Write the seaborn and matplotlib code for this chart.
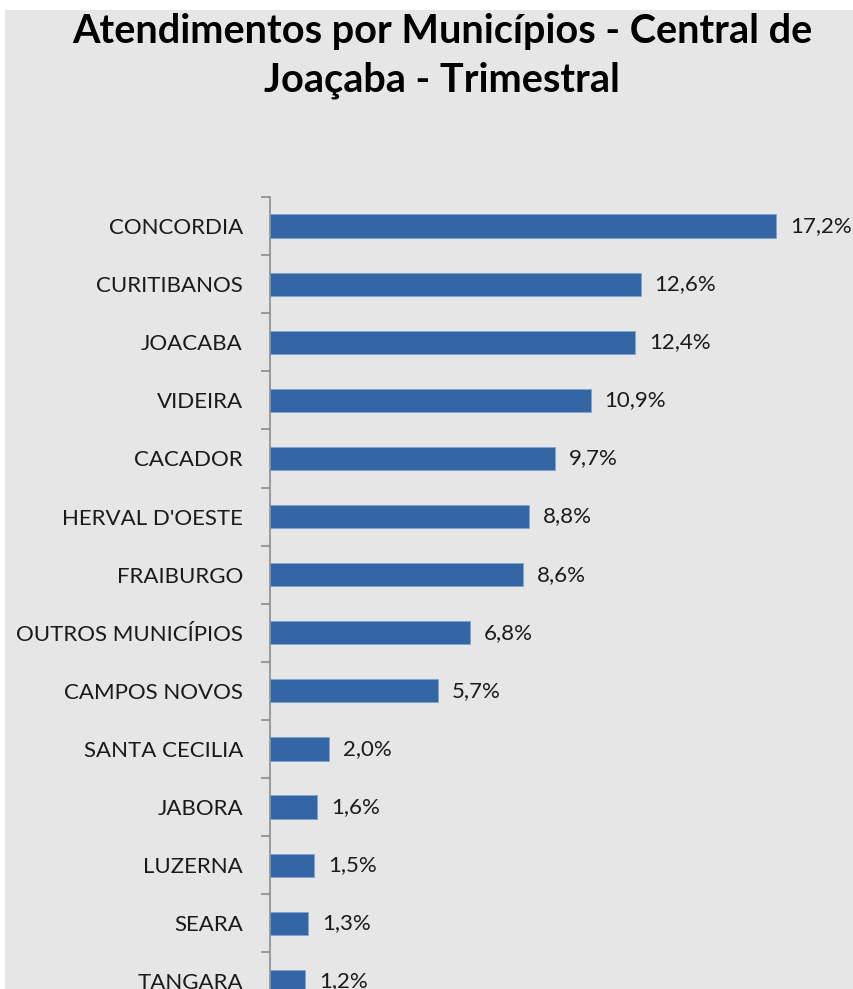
import pandas as pd
import matplotlib.pyplot as plt
import seaborn as sns
from matplotlib.patches import Rectangle
from matplotlib.ticker import FixedLocator

# data
municipios = ['CONCORDIA', 'CURITIBANOS', 'JOACABA', 'VIDEIRA', 'CACADOR',
              "HERVAL D'OESTE", 'FRAIBURGO', 'OUTROS MUNICÍPIOS', 'CAMPOS NOVOS',
              'SANTA CECILIA', 'JABORA', 'LUZERNA', 'SEARA', 'TANGARA']
percentuais = [17.2, 12.6, 12.4, 10.9, 9.7, 8.8, 8.6, 6.8, 5.7, 2.0, 1.6, 1.5, 1.3, 1.2]

df = pd.DataFrame({'municipio': municipios, 'pct': percentuais})

bg = '#e6e6e6'
bar_color = '#3466a5'

sns.set_style('white')
plt.rcParams['font.family'] = ['Lato', 'DejaVu Sans']

W, H = 854, 989
fig = plt.figure(figsize=(W / 100, H / 100), dpi=100)
fig.patch.set_facecolor('white')
# gray chart area (small white margin top/left in the original)
fig.patches.append(Rectangle((5 / W, 0), 1 - 5 / W, 1 - 10 / H, transform=fig.transFigure,
                             facecolor=bg, edgecolor='none', zorder=-1))

# axes: top of first band at y=197px, 58.1px per category, runs off the bottom
band = 58.1
top = 197
n = len(municipios)
ax_left = 270 / W
ax_top = 1 - top / H
ax_h = n * band / H
ax = fig.add_axes([ax_left, ax_top - ax_h, 1 - ax_left, ax_h])
ax.set_facecolor('none')

sns.barplot(data=df, x='pct', y='municipio', orient='h', color=bar_color,
            width=0.4, edgecolor='#7fa3cf', linewidth=0.6, saturation=1, ax=ax)

px_per_unit = 506 / 17.2
ax.set_xlim(0, (W - 270) / px_per_unit)
ax.set_ylim(n - 0.5, -0.5)

for i, v in enumerate(percentuais):
    ax.text(v + 14 / px_per_unit, i, f'{v:.1f}%'.replace('.', ','),
            va='center', ha='left', fontsize=16, color='#1a1a1a')

# axis formatting
ax.set_xlabel('')
ax.set_ylabel('')
ax.set_xticks([])
for s in ['top', 'right', 'bottom']:
    ax.spines[s].set_visible(False)
ax.spines['left'].set_color('#8c8c8c')
ax.spines['left'].set_linewidth(1.2)
ax.tick_params(axis='y', which='major', left=False, length=0, pad=19.5,
               labelsize=16, labelcolor='#1a1a1a')
ax.yaxis.set_minor_locator(FixedLocator([i - 0.5 for i in range(n + 1)]))
ax.tick_params(axis='y', which='minor', left=True, length=6.5, width=1.2,
               color='#8c8c8c', direction='out')

# title
fig.text(442 / W, 1 - 32 / H, 'Atendimentos por Municípios - Central de',
         ha='center', va='center', fontsize=28.5, fontweight='bold', color='black')
fig.text(442 / W, 1 - 80 / H, 'Joaçaba - Trimestral',
         ha='center', va='center', fontsize=28.5, fontweight='bold', color='black')

fig.savefig('out.png', dpi=100, facecolor=fig.get_facecolor())
